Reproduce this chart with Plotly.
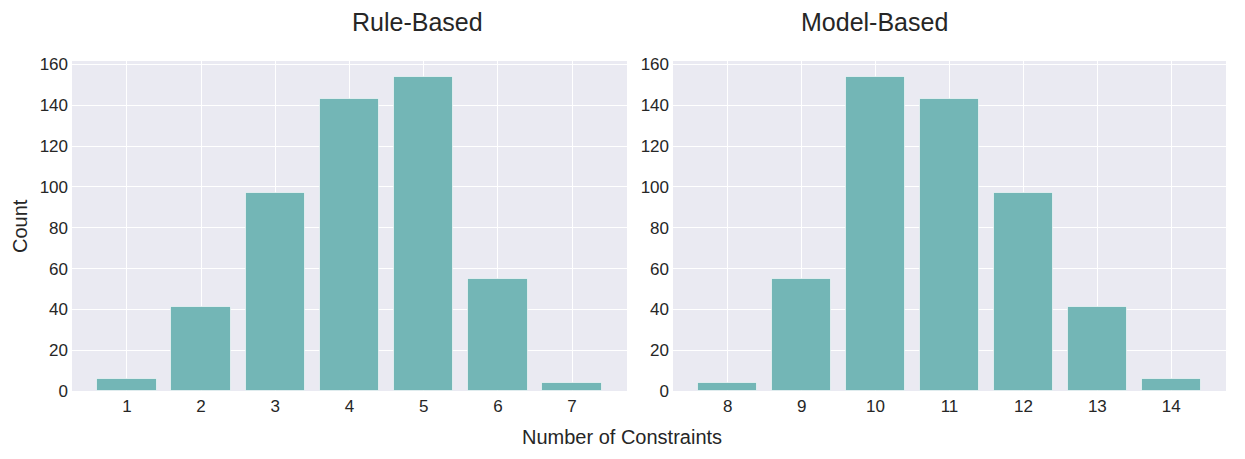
import plotly.graph_objects as go

rule_x = [1, 2, 3, 4, 5, 6, 7]
rule_counts = [6, 41, 97, 143, 154, 55, 4]
model_x = [8, 9, 10, 11, 12, 13, 14]
model_counts = [4, 55, 154, 143, 97, 41, 6]
y_ticks = [0, 20, 40, 60, 80, 100, 120, 140, 160]

# page body has an 8px margin; figure is sized so the page is 1245x459
OFF = 8
W, H = 1245 - 2 * OFF, 459 - 2 * OFF
bar_color = "#73b6b6"
bg = "#eaeaf2"
font = "Liberation Sans, Arial, sans-serif"
txt = "#262626"

def px(x):
    return (x - OFF) / W

def py(y):
    return 1 - (y - OFF) / H

fig = go.Figure()
fig.add_trace(go.Bar(x=rule_x, y=rule_counts, width=0.8, marker=dict(color=bar_color, line=dict(color="rgba(255,255,255,0.6)", width=1)), xaxis="x", yaxis="y", showlegend=False))
fig.add_trace(go.Bar(x=model_x, y=model_counts, width=0.8, marker=dict(color=bar_color, line=dict(color="rgba(255,255,255,0.6)", width=1)), xaxis="x2", yaxis="y2", showlegend=False))

ymax = max(max(rule_counts), max(model_counts)) * 1.05

def xr(xs):
    lo, hi = min(xs) - 0.4, max(xs) + 0.4
    m = (hi - lo) * 0.05
    return [lo - m, hi + m]

axcommon = dict(showgrid=True, gridcolor="white", gridwidth=1.3, zeroline=False, showline=False,
                automargin=False, ticks="", tickfont=dict(family=font, size=17, color=txt))
fig.update_layout(
    template="none",
    width=W, height=H,
    margin=dict(l=0, r=0, t=0, b=0),
    paper_bgcolor="white", plot_bgcolor=bg,
    font=dict(family=font, color=txt),
    bargap=0,
    xaxis=dict(domain=[px(72), px(627)], range=xr(rule_x), tickvals=rule_x, anchor="y", ticklabelstandoff=3, **axcommon),
    yaxis=dict(domain=[py(391), py(61)], range=[0, ymax], tickvals=y_ticks, anchor="x", ticklabelstandoff=3, **axcommon),
    xaxis2=dict(domain=[px(673), px(1226)], range=xr(model_x), tickvals=model_x, anchor="y2", ticklabelstandoff=3, **axcommon),
    yaxis2=dict(domain=[py(391), py(61)], range=[0, ymax], tickvals=y_ticks, anchor="x2", ticklabelstandoff=3, **axcommon),
    annotations=[
        dict(text="Rule-Based", x=px((72 + 627) / 2), y=py(22), xref="paper", yref="paper", showarrow=False, font=dict(size=25, family=font, color=txt), yanchor="middle"),
        dict(text="Model-Based", x=px((673 + 1226) / 2), y=py(22), xref="paper", yref="paper", showarrow=False, font=dict(size=25, family=font, color=txt), yanchor="middle"),
        dict(text="Number of Constraints", x=px(622), y=py(437), xref="paper", yref="paper", showarrow=False, font=dict(size=20, family=font, color=txt), yanchor="middle"),
        dict(text="Count", x=px(20), y=py(226), xref="paper", yref="paper", showarrow=False, textangle=-90, font=dict(size=20, family=font, color=txt), yanchor="middle", xanchor="center"),
    ],
)
fig.write_html("out.html")
